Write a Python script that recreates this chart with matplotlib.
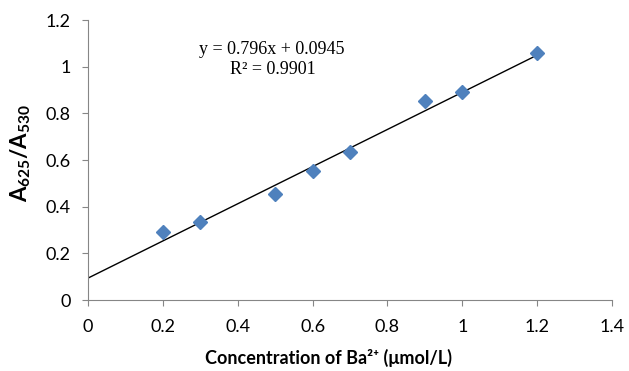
import numpy as np
import matplotlib
matplotlib.use('Agg')
import matplotlib.pyplot as plt
from matplotlib.ticker import FuncFormatter

conc = [0.2, 0.3, 0.5, 0.6, 0.7, 0.9, 1.0, 1.2]
ratio = [0.294, 0.334, 0.455, 0.555, 0.636, 0.853, 0.89, 1.058]
slope = 0.796
intercept = 0.0945
eq_text = 'y = 0.796x + 0.0945'
r2_text = 'R² = 0.9901'

plt.rcParams['font.family'] = ['Lato', 'DejaVu Sans']
plt.rcParams['mathtext.fontset'] = 'custom'
plt.rcParams['mathtext.rm'] = 'Lato'
plt.rcParams['mathtext.bf'] = 'Lato:bold'

fig = plt.figure(figsize=(6.29, 3.71), dpi=100)
ax = fig.add_axes([0.14, 0.191, 0.833, 0.755])

# trend line
xl = np.array([0, 1.2])
ax.plot(xl, slope * xl + intercept, color='black', lw=1)
ax.plot(conc, ratio, 'D', color='#4F81BD', markersize=7, markeredgecolor='#4F81BD')

ax.set_xlim(0, 1.4)
ax.set_ylim(0, 1.2)
ax.set_xticks(np.arange(0, 1.41, 0.2))
ax.set_yticks(np.arange(0, 1.21, 0.2))
fmt = FuncFormatter(lambda v, p: '%g' % round(v, 1))
ax.xaxis.set_major_formatter(fmt)
ax.yaxis.set_major_formatter(fmt)
ax.tick_params(axis='both', direction='out', length=4.5, color='#868686', labelsize=13)
ax.tick_params(axis='x', pad=9)
ax.tick_params(axis='y', pad=8)

for s in ['top', 'right']:
    ax.spines[s].set_visible(False)
for s in ['left', 'bottom']:
    ax.spines[s].set_color('#868686')

ax.set_xlabel('Concentration of Ba²⁺ (μmol/L)', fontsize=13, fontweight='bold')
ax.xaxis.set_label_coords(0.458, -0.175)
ax.set_ylabel(r'$\mathbf{A_{625}/A_{530}}$', fontsize=16)
ax.yaxis.set_label_coords(-0.105, 0.525)

ax.text(0.49, 1.073, eq_text, ha='center', va='center',
        fontsize=13, family='Liberation Serif')
ax.text(0.495, 0.987, r2_text, ha='center', va='center',
        fontsize=13, family='Liberation Serif')

fig.savefig('out.png', dpi=100)
